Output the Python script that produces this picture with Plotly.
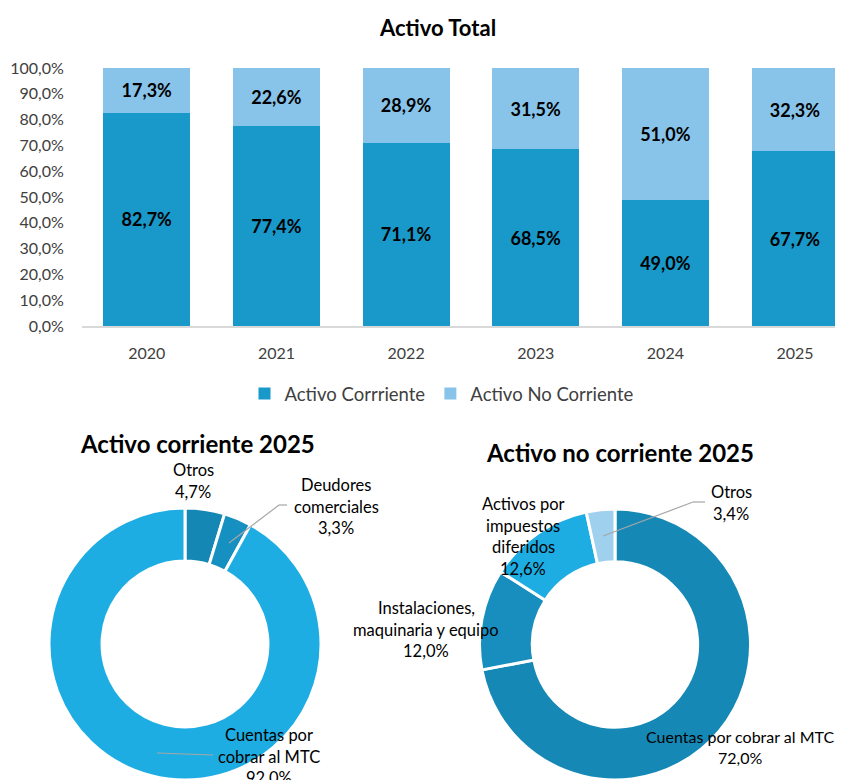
import plotly.graph_objects as go

# ---------------- data ----------------
years = ["2020", "2021", "2022", "2023", "2024", "2025"]
activo_corriente = [82.7, 77.4, 71.1, 68.5, 49.0, 67.7]
activo_no_corriente = [17.3, 22.6, 28.9, 31.5, 51.0, 32.3]
y_ticks = [0, 10, 20, 30, 40, 50, 60, 70, 80, 90, 100]

ac_labels = ["Otros", "Deudores comerciales", "Cuentas por cobrar al MTC"]
ac_values = [4.7, 3.3, 92.0]

anc_labels = ["Cuentas por cobrar al MTC", "Instalaciones, maquinaria y equipo",
              "Activos por impuestos diferidos", "Otros"]
anc_values = [72.0, 12.0, 12.6, 3.4]

# ---------------- style ----------------
VIEW_W, VIEW_H = 843, 780
OFF = 8  # default page body margin
W, H = VIEW_W - OFF, VIEW_H - OFF
FONT = "Lato, 'Open Sans', sans-serif"
C_AC = "#1899CA"
C_ANC = "#88C4EA"
AC_COLORS = ["#1487B4", "#1690C0", "#1EADE2"]
ANC_COLORS = ["#1588B5", "#188EBF", "#1EADE2", "#9FD0EE"]
LEADER = "#A6A6A6"


def px_x(x):
    return (x - OFF) / W


def px_y(y):
    return (VIEW_H - y) / H


def pct(v):
    return f"{v:.1f}".replace(".", ",") + "%"


fig = go.Figure()

for name, vals, col in [("Activo Corrriente", activo_corriente, C_AC),
                        ("Activo No Corriente", activo_no_corriente, C_ANC)]:
    fig.add_trace(go.Bar(
        x=years, y=vals, name=name,
        marker=dict(color=col, line=dict(width=0)),
        text=[pct(v) for v in vals], texttemplate="%{text}",
        textposition="inside", insidetextanchor="middle",
        textfont=dict(family=FONT, size=18, color="black", weight="bold"),
        constraintext="none", hoverinfo="x+y+name",
    ))

# donuts
fig.add_trace(go.Pie(
    labels=ac_labels, values=ac_values, hole=0.61, sort=False,
    direction="clockwise", rotation=0, textinfo="none", automargin=False,
    marker=dict(colors=AC_COLORS, line=dict(color="white", width=3)),
    domain=dict(x=[px_x(47), px_x(323)], y=[0, px_y(508)]),
    showlegend=False, name="Activo corriente 2025",
))
fig.add_trace(go.Pie(
    labels=anc_labels, values=anc_values, hole=0.61, sort=False,
    direction="clockwise", rotation=0, textinfo="none", automargin=False,
    marker=dict(colors=ANC_COLORS, line=dict(color="white", width=3)),
    domain=dict(x=[px_x(477), px_x(753)], y=[0, px_y(509)]),
    showlegend=False, name="Activo no corriente 2025",
))

annotations = []


def add_text(lines, cx, y0, spacing=21.5, size=16.5, bold=False, color="black"):
    for i, ln in enumerate(lines):
        annotations.append(dict(
            text=ln, x=px_x(cx), y=px_y(y0 + i * spacing), xref="paper", yref="paper",
            xanchor="center", yanchor="middle", showarrow=False,
            font=dict(family=FONT, size=size, color=color, weight="bold" if bold else "normal"),
        ))


# titles
add_text(["Activo Total"], 437, 28, size=22, bold=True)
add_text(["Activo corriente 2025"], 197, 443, size=24, bold=True)
add_text(["Activo no corriente 2025"], 620, 452, size=24, bold=True)

# left donut labels
add_text(["Otros", pct(ac_values[0])], 193, 470)
add_text(["Deudores", "comerciales", pct(ac_values[1])], 336, 485)
add_text(["Cuentas por", "cobrar al MTC", pct(ac_values[2])], 269, 735)

# right donut labels
add_text(["Otros", pct(anc_values[3])], 731, 492)
add_text(["Activos por", "impuestos", "diferidos", pct(anc_values[2])], 523, 504)
add_text(["Instalaciones,", "maquinaria y equipo", pct(anc_values[1])], 426, 608)
add_text(["Cuentas por cobrar al MTC", pct(anc_values[0])], 740, 736, size=16)

shapes = []


def leader(points):
    for (x0, y0), (x1, y1) in zip(points[:-1], points[1:]):
        shapes.append(dict(type="line", xref="paper", yref="paper",
                           x0=px_x(x0), y0=px_y(y0), x1=px_x(x1), y1=px_y(y1),
                           line=dict(color=LEADER, width=1.2)))


leader([(229, 543), (279, 505), (287, 505)])
leader([(157, 753), (213, 755)])
leader([(603, 536), (693, 502), (705, 502)])

fig.update_layout(
    template="none",
    width=W, height=H, autosize=False,
    margin=dict(l=0, r=0, t=0, b=0, pad=0, autoexpand=False),
    paper_bgcolor="white", plot_bgcolor="white",
    separators=",.",
    barmode="stack", bargap=0.33,
    font=dict(family=FONT, color="#404040"),
    xaxis=dict(
        domain=[px_x(82), 1], range=[-0.5, 5.37], type="category", automargin=False,
        showgrid=False, zeroline=False, showline=True, linecolor="#D9D9D9", linewidth=2,
        ticks="outside", ticklen=12, tickcolor="rgba(0,0,0,0)",
        tickfont=dict(family=FONT, size=16, color="#404040"), fixedrange=True,
    ),
    yaxis=dict(
        domain=[px_y(326), px_y(68)], range=[0, 100], automargin=False,
        tickmode="array", tickvals=y_ticks, ticktext=[pct(v) for v in y_ticks],
        showgrid=False, zeroline=False, showline=False,
        ticks="outside", ticklen=14, tickcolor="rgba(0,0,0,0)",
        tickfont=dict(family=FONT, size=16, color="#404040"), fixedrange=True,
    ),
    legend=dict(
        orientation="h", x=px_x(442), xanchor="center", y=px_y(394), yanchor="middle",
        font=dict(family=FONT, size=18.5, color="#404040"), traceorder="normal",
        bgcolor="rgba(0,0,0,0)",
    ),
    annotations=annotations,
    shapes=shapes,
)

fig.write_html("out.html")
